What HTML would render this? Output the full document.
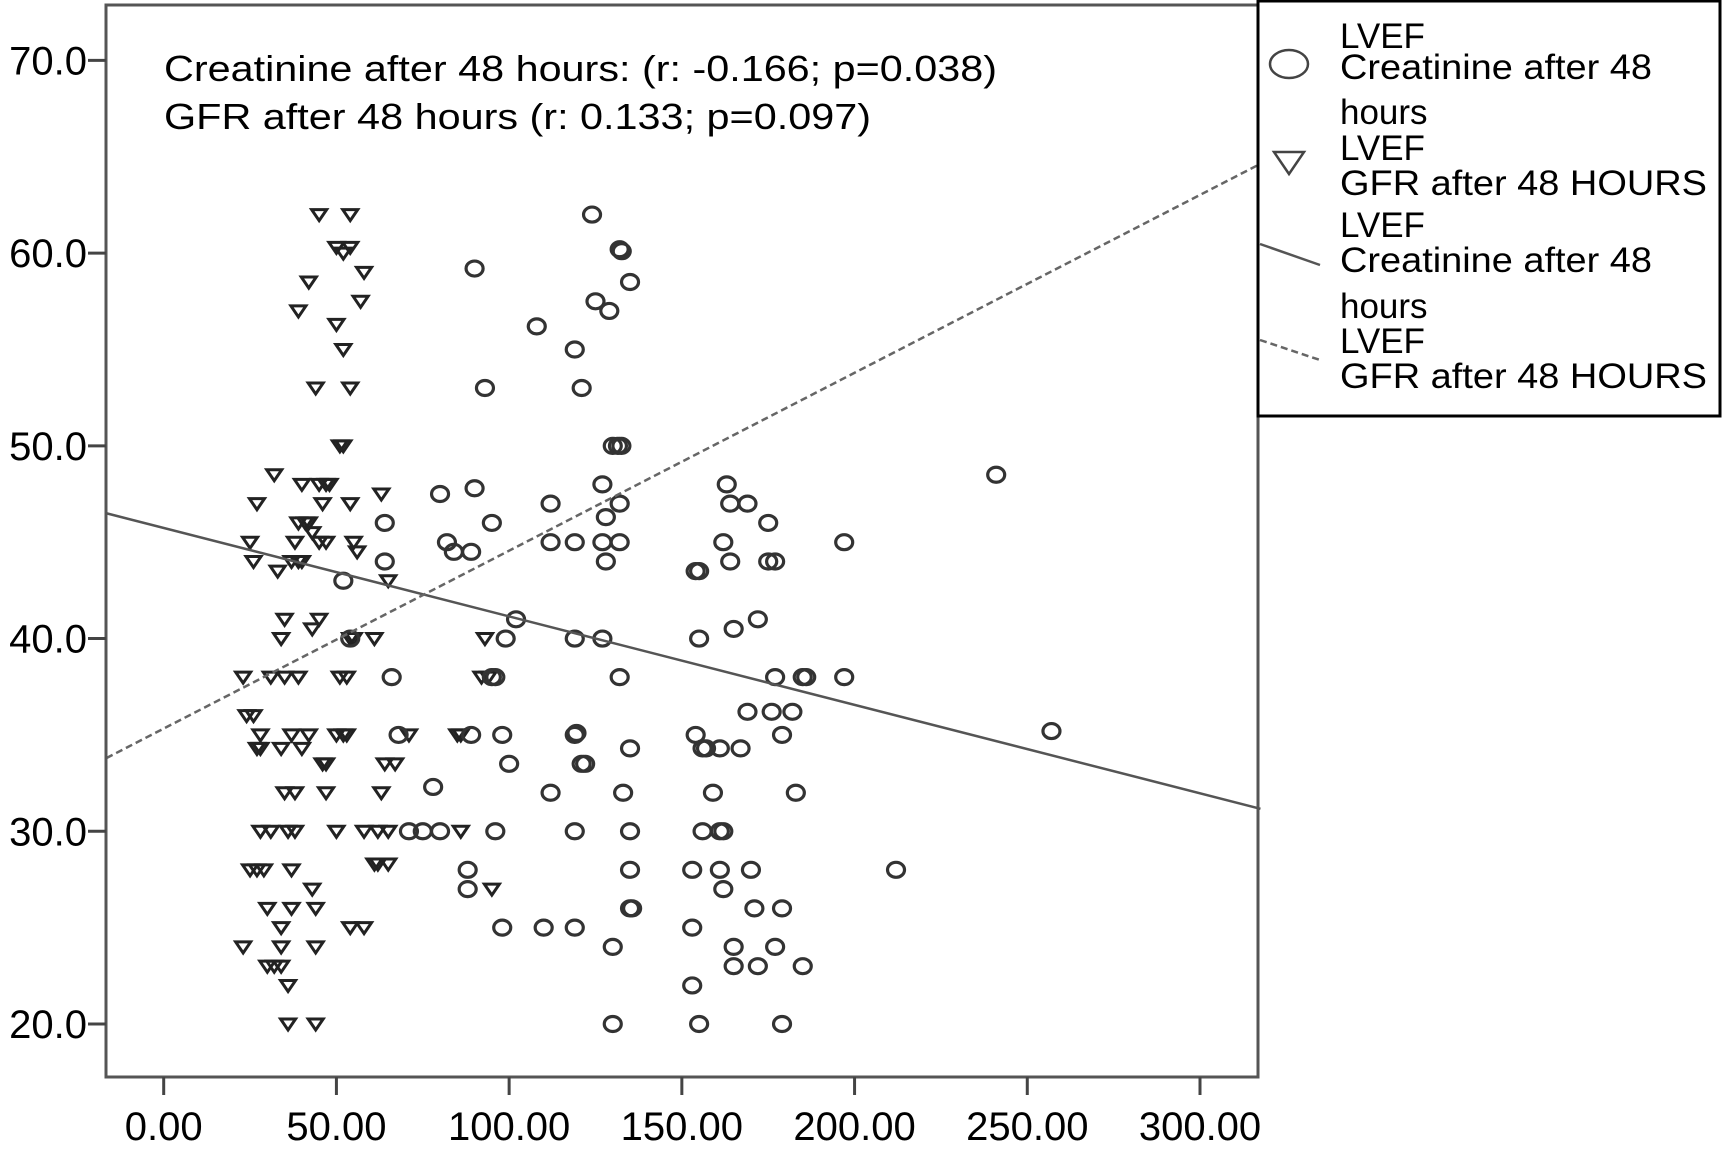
<!DOCTYPE html>
<html><head><meta charset="utf-8"><style>
html,body{margin:0;padding:0;background:#fff;}
svg{display:block;font-family:"Liberation Sans",sans-serif;}
</style></head><body>
<svg id="chart" width="1723" height="1150" viewBox="0 0 1723 1150" xmlns="http://www.w3.org/2000/svg">
<rect x="0" y="0" width="1723" height="1150" fill="#fff"/>
<g id="plot"></g>
<rect x="106" y="5" width="1152" height="1072" fill="none" stroke="#555" stroke-width="3"/>
<g id="axes"></g>
<text x="164" y="81" font-size="36" textLength="833" lengthAdjust="spacingAndGlyphs">Creatinine after 48 hours: (r: -0.166; p=0.038)</text>
<text x="164" y="129" font-size="36" textLength="707" lengthAdjust="spacingAndGlyphs">GFR after 48 hours (r: 0.133; p=0.097)</text>
<g>
<rect x="1258" y="1" width="462" height="415" fill="#fff" stroke="#000" stroke-width="3"/>
<ellipse cx="1289" cy="64" rx="19" ry="14" fill="none" stroke="#444" stroke-width="2.5"/>
<path d="M1274,152 L1304,152 L1289,174 Z" fill="none" stroke="#444" stroke-width="2.5"/>
<line x1="1260" y1="244" x2="1320" y2="265" stroke="#555" stroke-width="2.5"/>
<line x1="1260" y1="340" x2="1320" y2="360" stroke="#666" stroke-width="2.5" stroke-dasharray="7,4"/>
<g font-size="35" fill="#000">
<text x="1340" y="48">LVEF</text>
<text x="1340" y="79" textLength="312" lengthAdjust="spacingAndGlyphs">Creatinine after 48</text>
<text x="1340" y="124">hours</text>
<text x="1340" y="160">LVEF</text>
<text x="1340" y="195" textLength="367" lengthAdjust="spacingAndGlyphs">GFR after 48 HOURS</text>
<text x="1340" y="237">LVEF</text>
<text x="1340" y="272" textLength="312" lengthAdjust="spacingAndGlyphs">Creatinine after 48</text>
<text x="1340" y="318">hours</text>
<text x="1340" y="353">LVEF</text>
<text x="1340" y="388" textLength="367" lengthAdjust="spacingAndGlyphs">GFR after 48 HOURS</text>
</g>
</g>
</svg>
<script>
const xTicks = [0, 50, 100, 150, 200, 250, 300];
const xTickLabels = ["0.00", "50.00", "100.00", "150.00", "200.00", "250.00", "300.00"];
const yTicks = [20, 30, 40, 50, 60, 70];
const yTickLabels = ["20.0", "30.0", "40.0", "50.0", "60.0", "70.0"];
const creatX = [124,132,132.6,90,135,125,129,108,119,93,121,130,131.5,132.5,241,127,163,80,90,112,132,164,169,128,64,95,175,82,112,119,127,132,162,197,84,89,64,128,164,175,177,154,155,52,102,172,165,54,99,119,127,155,66,95,96,132,177,185,186,197,169,176,182,257,68,89,98,119,119.5,154,179,135,156,157,161,167,100,121,122,78,112,133,159,183,71,75,80,96,119,135,156,161,162,88,135,153,161,170,212,88,162,135,135.6,171,179,98,110,119,153,130,165,177,165,172,185,153,130,155,179];
const creatY = [62,60.2,60.1,59.2,58.5,57.5,57,56.2,55,53,53,50,50,50,48.5,48,48,47.5,47.8,47,47,47,47,46.3,46,46,46,45,45,45,45,45,45,45,44.5,44.5,44,44,44,44,44,43.5,43.5,43,41,41,40.5,40,40,40,40,40,38,38,38,38,38,38,38,38,36.2,36.2,36.2,35.2,35,35,35,35,35.1,35,35,34.3,34.3,34.3,34.3,34.3,33.5,33.5,33.5,32.3,32,32,32,32,30,30,30,30,30,30,30,30,30,28,28,28,28,28,28,27,27,26,26,26,26,25,25,25,25,24,24,24,23,23,23,22,20,20,20];
const gfrX = [45,54,50,54,52,58,42,57,39,50,52,44,54,51,52,32,40,45,47,48,63,27,46,54,39,41,42,43,25,38,45,47,55,56,26,37,39,40,33,65,35,45,43,34,54,55,61,93,23,31,35,39,51,53,92,94,24,26,28,37,42,50,52,53,71,85,86,27,28,34,40,46,47,64,67,35,38,47,63,28,31,36,38,50,58,62,65,86,61,62,65,25,27,29,37,43,95,30,37,44,34,54,58,23,34,44,30,32,34,36,36,44];
const gfrY = [62,62,60.3,60.3,60,59,58.5,57.5,57,56.3,55,53,53,50,50,48.5,48,48,48,48,47.5,47,47,47,46,46,46,45.5,45,45,45,45,45,44.5,44,44,44,44,43.5,43,41,41,40.5,40,40,40,40,40,38,38,38,38,38,38,38,38,36,36,35,35,35,35,35,35,35,35,35,34.3,34.3,34.3,34.3,33.5,33.5,33.5,33.5,32,32,32,32,30,30,30,30,30,30,30,30,30,28.3,28.3,28.3,28,28,28,28,27,27,26,26,26,25,25,25,24,24,24,23,23,23,22,20,20];
const fitIntercepts = [45.74, 35.33];
const fitSlopes = [-0.0459, 0.0923];

const NS = "http://www.w3.org/2000/svg";
const X0 = 163.7, XS = (1200 - 163.7) / 300;
const Y20 = 1024, YS = (1024 - 60.4) / 50;
function sx(v) { return X0 + v * XS; }
function sy(v) { return Y20 - (v - 20) * YS; }
function mk(tag, attrs, parent) {
  const el = document.createElementNS(NS, tag);
  for (const k in attrs) el.setAttribute(k, attrs[k]);
  parent.appendChild(el);
  return el;
}
const plot = document.getElementById('plot');
const axes = document.getElementById('axes');

for (let i = 0; i < gfrX.length; i++) {
  const cx = sx(gfrX[i]), cy = sy(gfrY[i]);
  const t = mk('path', {d: `M${cx-7.5},${cy-5} L${cx+7.5},${cy-5} L${cx},${cy+6} Z`, fill: 'none', stroke: '#222', 'stroke-width': 3}, plot);
  
  
}
for (let i = 0; i < creatX.length; i++) {
  const c = mk('ellipse', {cx: sx(creatX[i]), cy: sy(creatY[i]), rx: 8.5, ry: 7.5, fill: 'none', stroke: '#333', 'stroke-width': 3.2}, plot);
  
  
}
const xa = -16.6, xb = 317.5;
const l1 = mk('line', {x1: sx(xa), y1: sy(fitIntercepts[0] + fitSlopes[0]*xa), x2: sx(xb), y2: sy(fitIntercepts[0] + fitSlopes[0]*xb), stroke: '#555', 'stroke-width': 2.5}, plot);


const l2 = mk('line', {x1: sx(xa), y1: sy(fitIntercepts[1] + fitSlopes[1]*xa), x2: sx(xb), y2: sy(fitIntercepts[1] + fitSlopes[1]*xb), stroke: '#666', 'stroke-width': 2.5, 'stroke-dasharray': '7,4'}, plot);



for (let i = 0; i < yTicks.length; i++) {
  const y = sy(yTicks[i]);
  const tk = mk('line', {x1: 88, y1: y, x2: 106, y2: y, stroke: '#444', 'stroke-width': 3}, axes);
  
  
  const tx = mk('text', {x: 87, y: y + 14, 'font-size': 40, 'text-anchor': 'end'}, axes);
  tx.textContent = yTickLabels[i];
  
  
}
for (let i = 0; i < xTicks.length; i++) {
  const x = sx(xTicks[i]);
  const tk = mk('line', {x1: x, y1: 1077, x2: x, y2: 1095, stroke: '#444', 'stroke-width': 3}, axes);
  
  
  const tx = mk('text', {x: x, y: 1140, 'font-size': 40, 'text-anchor': 'middle'}, axes);
  tx.textContent = xTickLabels[i];
  
  
}
</script>
</body></html>
